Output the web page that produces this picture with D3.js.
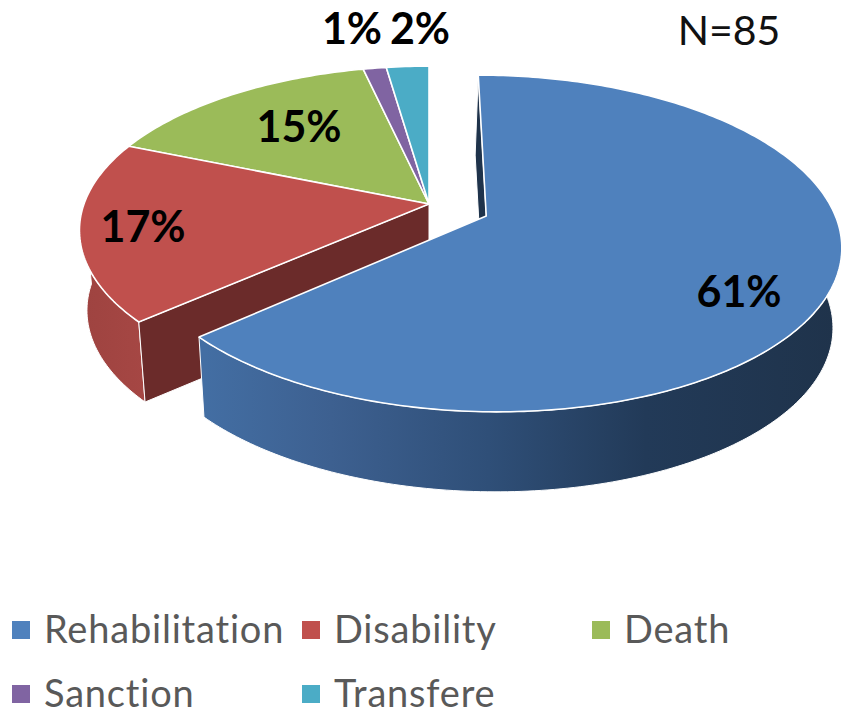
<!DOCTYPE html>
<html>
<head>
<meta charset="utf-8">
<script src="https://cdn.jsdelivr.net/npm/d3@7"></script>
<style>
  html, body { margin: 0; padding: 0; background: #fff; }
  svg { display: block; }
</style>
</head>
<body>
<div id="chart"></div>
<script>
const categories = ["Rehabilitation", "Disability", "Death", "Sanction", "Transfere"];
// shares, the labels are the rounded figures printed on the chart
const shares = [61, 17, 14.6, 1.2, 2.2];
const percentLabels = ["61%", "17%", "15%", "1%", "2%"];
const colors = ["#4f81bd", "#c0504d", "#9bbb59", "#8064a2", "#4bacc6"];
const sampleSize = "N=85";

const width = 841, height = 714;

// projection of the tilted disc, fitted to the picture
const cx = 429, cy = 204, rx = 345, ry = 160, persp = 0.161;
const depth = 80, shrink = 0.022;
const explode = 0.18;

const svg = d3.select("#chart").append("svg")
  .attr("width", width)
  .attr("height", height)
  .style("font-family", "Lato, sans-serif");

const defs = svg.append("defs");
const blueGrad = defs.append("linearGradient")
  .attr("id", "blue-wall")
  .attr("gradientUnits", "userSpaceOnUse")
  .attr("x1", 205).attr("x2", 835).attr("y1", 0).attr("y2", 0);
blueGrad.selectAll("stop")
  .data([[0, "#436ea3"], [0.2, "#3d6090"], [0.45, "#2f4f78"], [0.7, "#223a58"], [1, "#1f334b"]])
  .join("stop")
  .attr("offset", d => d[0])
  .attr("stop-color", d => d[1]);

const redGrad = defs.append("linearGradient")
  .attr("id", "red-wall")
  .attr("gradientUnits", "userSpaceOnUse")
  .attr("x1", 80).attr("x2", 147).attr("y1", 0).attr("y2", 0);
redGrad.selectAll("stop")
  .data([[0, "#9e4340"], [1, "#a64744"]])
  .join("stop")
  .attr("offset", d => d[0])
  .attr("stop-color", d => d[1]);

const slices = d3.pie().sort(null).startAngle(0).endAngle(2 * Math.PI)(shares);

function project(u, v, z) {
  const w = 1 + persp * v;
  const k = 1 + shrink * z;
  return [
    cx + rx * u / w / k,
    cy - ry * v / w + depth * z
  ];
}

function offsetOf(i) {
  if (i !== 0) return [0, 0];
  const mid = (slices[0].startAngle + slices[0].endAngle) / 2;
  return [explode * Math.sin(mid), explode * Math.cos(mid)];
}

function rimPoint(angle, z, off) {
  return project(Math.sin(angle) + off[0], Math.cos(angle) + off[1], z);
}

function rim(a0, a1, z, off) {
  const n = Math.max(2, Math.ceil(Math.abs(a1 - a0) * 60));
  return d3.range(n + 1).map(j => rimPoint(a0 + (a1 - a0) * j / n, z, off));
}

const path = d3.line();
const closed = pts => path(pts) + "Z";

function drawTop(i) {
  const s = slices[i], off = offsetOf(i);
  svg.append("path")
    .attr("d", closed([project(off[0], off[1], 0)].concat(rim(s.startAngle, s.endAngle, 0, off))))
    .attr("fill", colors[i])
    .attr("stroke", "#fff")
    .attr("stroke-width", 1.6)
    .attr("stroke-linejoin", "round");
}

function drawWall(i, a0, a1, fill) {
  const off = offsetOf(i);
  svg.append("path")
    .attr("d", closed(rim(a0, a1, 0, off).concat(rim(a1, a0, 1, off))))
    .attr("fill", fill)
    .attr("stroke", "#fff")
    .attr("stroke-width", 1);
}

// nudge widens the thin sliver of the blue cut a little
function drawCut(i, angle, fill, nudge = 0) {
  const off = offsetOf(i);
  const low = p => [p[0] - nudge, p[1]];
  svg.append("path")
    .attr("d", closed([
      project(off[0], off[1], 0),
      rimPoint(angle, 0, off),
      low(rimPoint(angle, 1, off)),
      low(project(off[0], off[1], 1))
    ]))
    .attr("fill", fill)
    .attr("stroke", "#fff")
    .attr("stroke-width", 1);
}

// back slices first, then disability, then the pulled out slice on top
[2, 3, 4].forEach(drawTop);

drawWall(1, slices[1].startAngle, 3 * Math.PI / 2, "url(#red-wall)");
drawCut(1, slices[1].startAngle, "#6b2b2a");
drawTop(1);

drawCut(0, slices[0].startAngle, "#1f334b", 2);
drawWall(0, Math.PI / 2 - 0.2, slices[0].endAngle, "url(#blue-wall)");
drawTop(0);

// data labels
const labelX = [739, 143, 299, 352, 420];
const labelY = [292, 227, 127, 29, 29];
svg.selectAll(".pct")
  .data(percentLabels)
  .join("text")
  .attr("class", "pct")
  .attr("x", (d, i) => labelX[i])
  .attr("y", (d, i) => labelY[i])
  .attr("dy", "0.36em")
  .attr("text-anchor", "middle")
  .attr("font-size", 43)
  .attr("font-weight", 700)
  .attr("fill", "#000")
  .text(d => d);

svg.append("text")
  .attr("x", 729)
  .attr("y", 45)
  .attr("text-anchor", "middle")
  .attr("font-size", 41)
  .attr("fill", "#111")
  .text(sampleSize);

// legend, three to a row
const legendX = d3.scaleLinear().domain([0, 1]).range([12, 302]);
const legendY = d3.scaleLinear().domain([0, 1]).range([630, 694]);
const legend = svg.selectAll(".legend-item")
  .data(categories)
  .join("g")
  .attr("class", "legend-item")
  .attr("transform", (d, i) => `translate(${legendX(i % 3)},${legendY(Math.floor(i / 3))})`);

legend.append("rect")
  .attr("x", 0)
  .attr("y", -9)
  .attr("width", 18)
  .attr("height", 18)
  .attr("fill", (d, i) => colors[i]);

legend.append("text")
  .attr("x", 32)
  .attr("y", 13)
  .attr("font-size", 38)
  .attr("letter-spacing", 0.8)
  .attr("fill", "#595959")
  .text(d => d);
</script>
</body>
</html>
